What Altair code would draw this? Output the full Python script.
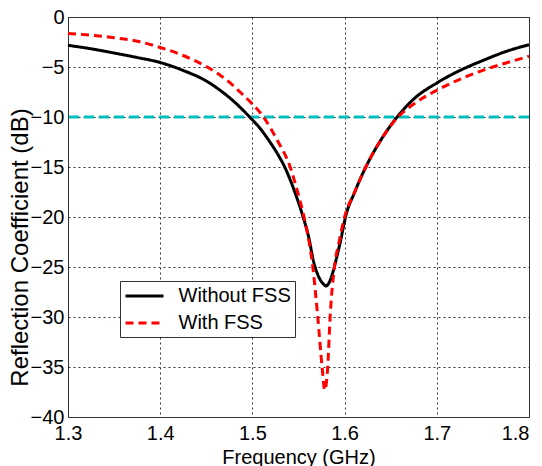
import altair as alt
import pandas as pd

# ---- data ----
freq_without = [1.300, 1.325, 1.350, 1.375, 1.400, 1.425, 1.450, 1.465, 1.480, 1.497,
                1.508, 1.519, 1.528, 1.535, 1.546, 1.555, 1.561, 1.5665, 1.572, 1.577,
                1.580, 1.583, 1.587, 1.591, 1.596, 1.601, 1.611, 1.623, 1.638, 1.657,
                1.675, 1.700, 1.725, 1.750, 1.775, 1.800]
s11_without = [-2.83, -3.18, -3.6, -4.05, -4.55, -5.35, -6.4, -7.33, -8.45, -10.0,
               -11.1, -12.5, -13.8, -15.0, -17.5, -20.0, -22.0, -24.5, -26.0, -26.7,
               -26.9, -26.6, -25.6, -24.2, -22.2, -20.0, -17.5, -15.0, -12.5, -10.0,
               -8.2, -6.6, -5.35, -4.35, -3.45, -2.77]

freq_with = [1.300, 1.325, 1.350, 1.375, 1.400, 1.425, 1.450, 1.472, 1.490, 1.500,
             1.512, 1.528, 1.541, 1.549, 1.556, 1.5615, 1.5655, 1.5709, 1.5756, 1.5785,
             1.5817, 1.5843, 1.5890, 1.5940, 1.6000, 1.611, 1.623, 1.638, 1.658,
             1.675, 1.700, 1.725, 1.750, 1.775, 1.800]
s11_with = [-1.65, -1.82, -2.07, -2.42, -3.05, -3.85, -4.95, -6.3, -7.8, -8.7,
            -10.0, -12.5, -15.0, -17.5, -20.0, -22.5, -25.0, -30.0, -35.0, -37.3,
            -35.0, -30.0, -25.0, -22.5, -20.0, -17.5, -15.0, -12.5, -10.0,
            -8.7, -7.33, -6.23, -5.33, -4.6, -3.93]

series_names = ["Without FSS", "With FSS"]
series_colors = ["#000000", "#FF0000"]
series_dashes = [[1, 0], [8, 5]]
x_ticks = [1.3, 1.4, 1.5, 1.6, 1.7, 1.8]
y_ticks = [-40, -35, -30, -25, -20, -15, -10, -5, 0]
threshold = [-10]

df = pd.concat([
    pd.DataFrame({"freq": freq_without, "s11": s11_without, "series": series_names[0]}),
    pd.DataFrame({"freq": freq_with, "s11": s11_with, "series": series_names[1]}),
], ignore_index=True)

FONT = "Liberation Sans, Arial, sans-serif"

x_enc = alt.X(
    "freq:Q",
    scale=alt.Scale(domain=[1.3, 1.8], nice=False, zero=False),
    axis=alt.Axis(values=x_ticks, format=".1f", title="Frequency (GHz)",
                  labelFlush=False, labelOverlap=False, labelPadding=22,
                  labelBaseline="alphabetic", labelFontSize=20,
                  labelAlign={"condition": {"test": "datum.value >= 1.79", "value": "right"},
                              "value": "center"},
                  titleFontSize=20, titleX=230.5, titleY=46,
                  titleBaseline="alphabetic", titleAlign="center"),
)
y_enc = alt.Y(
    "s11:Q",
    scale=alt.Scale(domain=[-40, 0], nice=False, zero=False),
    axis=alt.Axis(values=y_ticks, format="d", title="Reflection Coefficient (dB)",
                  labelOverlap=False, labelPadding=4, labelFontSize=20,
                  labelFlush=False,
                  titleFontSize=24, titleAngle=270, titleX=-41, titleY=230,
                  titleBaseline="alphabetic", titleAlign="center"),
)

leg = alt.Legend(
    orient="none", legendX=52, legendY=264, title=None,
    symbolType="M-2,0H2", symbolSize=361, symbolStrokeWidth=3,
    symbolOffset=9.5, labelOffset=23,
    labelFontSize=20, labelFont=FONT, labelColor="black",
    padding=4, rowPadding=6, fillColor="white", strokeColor="#333",
)
color_enc = alt.Color("series:N", scale=alt.Scale(domain=series_names, range=series_colors), legend=leg)
dash_enc = alt.StrokeDash("series:N", scale=alt.Scale(domain=series_names, range=series_dashes), legend=leg)

cyan = alt.Chart(pd.DataFrame({"y": threshold})).mark_rule(
    color="#00BFBF", strokeWidth=3, strokeDash=[10, 5]
).encode(y=alt.Y("y:Q"))

black = alt.Chart(df).transform_filter(alt.datum.series == series_names[0]).mark_line(
    strokeWidth=3, interpolate="monotone"
).encode(x=x_enc, y=y_enc, color=color_enc, strokeDash=dash_enc)

red = alt.Chart(df).transform_filter(alt.datum.series == series_names[1]).mark_line(
    strokeWidth=3, interpolate="monotone"
).encode(x=x_enc, y=y_enc, color=color_enc, strokeDash=dash_enc)

chart = alt.layer(cyan, black, red).properties(
    width=461, height=400,
    padding={"left": 60, "top": 9, "right": 5, "bottom": 50},
    autosize=alt.AutoSizeParams(type="none"),
    background="white",
).configure_axis(
    labelFont=FONT, titleFont=FONT, labelColor="black", titleColor="black",
    titleFontWeight="normal", gridColor="#333", gridDash=[2, 3], gridOpacity=1,
    gridWidth=1, domain=False, ticks=False, tickSize=0,
).configure_view(stroke="#333", strokeWidth=1)

chart.save("out.html", embed_options={"renderer": "svg", "actions": False})
